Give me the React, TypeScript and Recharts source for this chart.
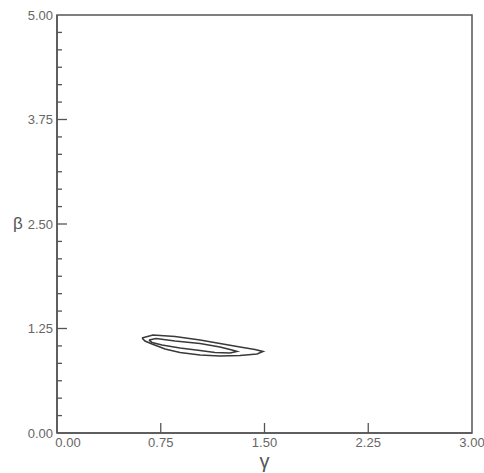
import { LineChart, Line, XAxis, YAxis, ReferenceArea, Label } from "recharts";

// gamma (x) / beta (y) pairs, closed back to the start
const outerGamma = [0.614, 0.694, 0.853, 1.034, 1.178, 1.323, 1.431, 1.489, 1.446, 1.323, 1.178, 1.034, 0.889, 0.781, 0.687, 0.636, 0.614];
const outerBeta = [1.136, 1.172, 1.154, 1.112, 1.071, 1.029, 0.999, 0.975, 0.945, 0.927, 0.921, 0.933, 0.963, 1.005, 1.065, 1.1, 1.136];
const innerGamma = [0.665, 0.716, 0.853, 1.034, 1.178, 1.265, 1.301, 1.251, 1.142, 1.034, 0.889, 0.759, 0.687, 0.665];
const innerBeta = [1.112, 1.13, 1.1, 1.071, 1.029, 0.993, 0.975, 0.957, 0.963, 0.987, 1.017, 1.053, 1.083, 1.112];

const xLabels = [0, 0.75, 1.5, 2.25, 3];
const yLabels = [0, 1.25, 2.5, 3.75, 5];
// six minor divisions between labelled y values
const yTicks = Array.from({ length: 25 }, (_, i) => (i * 1.25) / 6);

const outer = outerGamma.map((g, i) => ({ g, b: outerBeta[i] }));
const inner = innerGamma.map((g, i) => ({ g, b: innerBeta[i] }));

const ink = "#555";
const font = "'Liberation Sans', Arial, sans-serif";

const isLabel = (list: number[], v: number) => list.some((t) => Math.abs(t - v) < 1e-6);

function XTick(props: any) {
  const { x, y, payload } = props;
  const v = payload.value;
  const inside = v > 0 && v < 3;
  // the first label sits right of its tick, clear of the y-axis 0.00
  const tx = v === 0 ? x + 11 : x;
  return (
    <g>
      {inside && <line x1={x} x2={x} y1={y} y2={y - 10} stroke={ink} strokeWidth={1.3} />}
      <text x={tx} y={y + 14} textAnchor="middle" fontSize={13} fill="#666" fontFamily={font}>
        {v.toFixed(2)}
      </text>
    </g>
  );
}

function YTick(props: any) {
  const { x, y, payload } = props;
  const v = payload.value;
  const major = isLabel(yLabels, v);
  if (v >= 5 - 1e-6 && !major) return null;
  return (
    <g>
      {v > 0 && v < 5 && (
        <line x1={x} x2={x + (major ? 10 : 5)} y1={y} y2={y} stroke={ink} strokeWidth={1.3} />
      )}
      {major && (
        <text x={x - 4} y={y + 4.5} textAnchor="end" fontSize={13} fill="#666" fontFamily={font}>
          {v.toFixed(2)}
        </text>
      )}
    </g>
  );
}

export default function App() {
  return (
    <div style={{ position: "absolute", left: 0, top: 0, background: "#fff" }}>
      <LineChart width={484} height={473} margin={{ top: 15, right: 12, bottom: 0, left: 0 }}>
        <XAxis
          dataKey="g"
          type="number"
          domain={[0, 3]}
          ticks={xLabels}
          interval={0}
          height={40}
          tickSize={0}
          tickMargin={0}
          tickLine={false}
          axisLine={{ stroke: ink, strokeWidth: 1.5 }}
          tick={<XTick />}
        >
          <Label
            value="γ"
            position="bottom"
            content={(p: any) => (
              <text
                x={p.viewBox.x + p.viewBox.width / 2}
                y={468}
                textAnchor="middle"
                fontSize={20}
                fill="#555"
                fontFamily={font}
              >
                γ
              </text>
            )}
          />
        </XAxis>
        <YAxis
          dataKey="b"
          type="number"
          domain={[0, 5]}
          ticks={yTicks}
          interval={0}
          width={57}
          tickSize={0}
          tickMargin={0}
          tickLine={false}
          axisLine={{ stroke: ink, strokeWidth: 1.5 }}
          tick={<YTick />}
        >
          <Label
            value="β"
            content={() => (
              <text x={18} y={229} textAnchor="middle" fontSize={17} fill="#555" fontFamily={font}>
                β
              </text>
            )}
          />
        </YAxis>
        <ReferenceArea x1={0} x2={3} y1={0} y2={5} fill="none" stroke={ink} strokeWidth={1.5} ifOverflow="visible" />
        <Line data={outer} dataKey="b" type="linear" stroke="#3a3a3a" strokeWidth={1.6} dot={false} isAnimationActive={false} />
        <Line data={inner} dataKey="b" type="linear" stroke="#3a3a3a" strokeWidth={1.6} dot={false} isAnimationActive={false} />
      </LineChart>
    </div>
  );
}
